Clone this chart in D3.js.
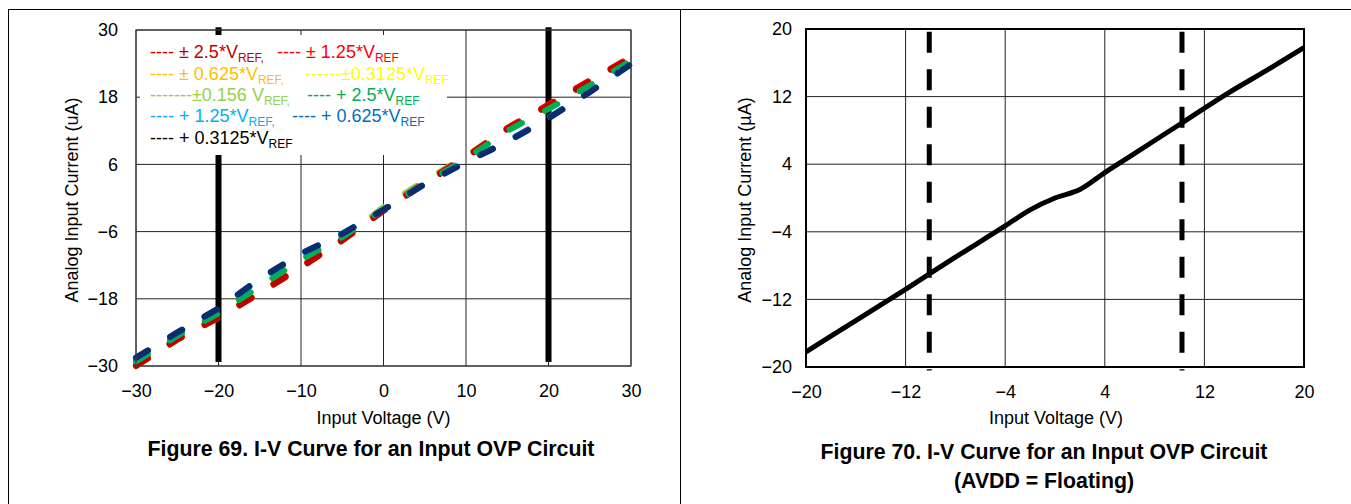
<!DOCTYPE html>
<html><head><meta charset="utf-8">
<script src="https://cdn.jsdelivr.net/npm/d3@7"></script>
<style>
body{margin:0;background:#fff}
svg{display:block}
text{font-family:"Liberation Sans",Arial,sans-serif}
</style>
</head><body>
<svg id="c" width="1351" height="504"></svg>
<script>
// ---------- DATA: Figure 69 ----------
const voltage69 = [-30,-25,-20,-15,-10,-5,0,5,10,15,20,25,30];
const iPm2p5    = [-30.0,-25.3,-21.4,-17.0,-12.4,-7.6,-2.3,2.6,7.2,12.3,16.5,20.8,25.0];
const iPm1p25   = [-29.8,-25.1,-21.2,-16.8,-12.2,-7.4,-2.1,2.8,7.4,12.5,16.7,21.0,25.2];
const iPm0p625  = [-29.9,-25.2,-21.3,-16.9,-12.3,-7.5,-2.2,2.7,7.3,12.4,16.6,20.9,25.1];
const iPm0p3125 = [-29.9,-25.2,-21.3,-16.9,-12.3,-7.5,-2.2,2.7,7.3,12.4,16.6,20.9,25.1];
const iPm0p156  = [-30.0,-25.3,-21.4,-17.0,-12.4,-7.4,-1.6,3.1,7.4,12.3,16.5,20.8,25.0];
const iP2p5     = [-29.2,-24.6,-20.6,-15.8,-11.0,-7.0,-2.0,2.6,7.0,12.0,15.9,20.1,24.5];
const iP1p25    = [-28.6,-24.1,-19.8,-14.5,-10.0,-6.4,-2.1,2.5,6.5,10.1,14.3,19.0,23.9];
const iP0p625   = [-28.6,-24.1,-19.8,-14.5,-10.0,-6.4,-2.1,2.5,6.5,10.1,14.3,19.0,23.9];
const iP0p3125  = [-28.5,-24.0,-19.7,-14.4,-9.9,-6.4,-2.1,2.5,6.4,10.0,14.2,18.9,23.9];

const legendLabels = [
  ["---- ± 2.5*V","REF,"], ["---- ± 1.25*V","REF"],
  ["---- ± 0.625*V","REF,"], ["------±0.3125*V","REF"],
  ["-------±0.156 V","REF,"], ["---- + 2.5*V","REF"],
  ["---- + 1.25*V","REF,"], ["---- + 0.625*V","REF"],
  ["---- + 0.3125*V","REF"]
];
const ticks69X = [-30,-20,-10,0,10,20,30];
const ticks69Y = [-30,-18,-6,6,18,30];
const ovpLimits69 = [-20, 20];

// ---------- DATA: Figure 70 ----------
const voltage70 = [-20,-16,-12,-8,-4,-2,0,2,4,6,10,14,17,20];
const current70 = [-18.2,-14.5,-10.8,-7.0,-3.3,-1.4,0.0,1.0,3.0,4.9,8.7,12.5,15.1,17.8];
const ticks70X = [-20,-12,-4,4,12,20];
const ticks70Y = [-20,-12,-4,4,12,20];
const ovpLimits70 = [-10.1, 10.2];

// ---------- styles ----------
const FONT = 18;
const svg = d3.select("#c");

// outer panel borders
svg.append("line").attr("x1",8).attr("x2",1351).attr("y1",9.5).attr("y2",9.5).attr("stroke","#000");
svg.append("line").attr("x1",8.5).attr("x2",8.5).attr("y1",9).attr("y2",504).attr("stroke","#000");
svg.append("line").attr("x1",680.5).attr("x2",680.5).attr("y1",9).attr("y2",504).attr("stroke","#000");

function fmt(v){ return v < 0 ? "\u2212" + Math.abs(v) : String(v); }

function drawFrame(x, y, tx, ty, ylabOffset){
  const g = svg.append("g");
  tx.forEach(t => g.append("line").attr("x1",x(t)).attr("x2",x(t)).attr("y1",y.range()[0]).attr("y2",y.range()[1])
      .attr("stroke","#222").attr("stroke-width",1));
  ty.forEach(t => g.append("line").attr("y1",y(t)).attr("y2",y(t)).attr("x1",x.range()[0]).attr("x2",x.range()[1])
      .attr("stroke","#222").attr("stroke-width",1));
  const ax = svg.append("g").attr("transform",`translate(0,${y.range()[0]})`)
     .call(d3.axisBottom(x).tickValues(tx).tickFormat(fmt).tickSize(0).tickPadding(18));
  const ay = svg.append("g").attr("transform",`translate(${x.range()[0]},0)`)
     .call(d3.axisLeft(y).tickValues(ty).tickFormat(fmt).tickSize(0).tickPadding(ylabOffset));
  [ax,ay].forEach(a=>{ a.select(".domain").remove();
    a.selectAll("text").attr("font-size",FONT).attr("fill","#000").attr("font-family","Liberation Sans, Arial, sans-serif"); });
  return g;
}
function drawBorder(x, y, color, w){
  svg.append("rect").attr("x",x.range()[0]).attr("y",y.range()[1])
    .attr("width",x.range()[1]-x.range()[0]).attr("height",y.range()[0]-y.range()[1])
    .attr("fill","none").attr("stroke",color).attr("stroke-width",w);
}

// ================= Figure 69 =================
const x69 = d3.scaleLinear().domain([-30,30]).range([136,631]);
const y69 = d3.scaleLinear().domain([-30,30]).range([366,30]);
drawFrame(x69, y69, ticks69X, ticks69Y, 18);

// OVP limit bars
ovpLimits69.forEach(v => svg.append("line")
  .attr("x1",x69(v)).attr("x2",x69(v)).attr("y1",y69(30.5)).attr("y2",y69(-29.3))
  .attr("stroke","#000").attr("stroke-width",6));

// series (drawing order chosen so the visible layers match)
const series69 = [
  {v:iPm0p3125, c:"#ffff00"},
  {v:iPm0p625,  c:"#ffc000"},
  {v:iPm0p156,  c:"#92d050"},
  {v:iPm1p25,   c:"#ff0000"},
  {v:iPm2p5,    c:"#c00000"},
  {v:iP2p5,     c:"#00b050"},
  {v:iP1p25,    c:"#00b0f0"},
  {v:iP0p625,   c:"#0070c0"},
  {v:iP0p3125,  c:"#0d2c6c"}
];
const line69 = d3.line().x((d,i)=>x69(voltage69[i])).y(d=>y69(d));
series69.forEach(s => svg.append("path").attr("d", line69(s.v))
  .attr("fill","none").attr("stroke",s.c).attr("stroke-width",6)
  .attr("stroke-linecap","round").attr("stroke-dasharray","14 26"));

drawBorder(x69, y69, "#404040", 1.2);

// legend background (covers grid and limit bar)
svg.append("rect").attr("x",140).attr("y",35).attr("width",307).attr("height",120).attr("fill","#fff");

// legend text
const legendColors = ["#c00000","#ff0000","#ffc000","#ffff00","#92d050","#00b050","#00b0f0","#0070c0","#000000"];
const legendPos = [[150,58],[277,58],[150,80],[305,80],[150,101],[307,101],[150,121.5],[292,121.5],[150,143.5]];
legendLabels.forEach((l,i)=>{
  const t = svg.append("text").attr("x",legendPos[i][0]).attr("y",legendPos[i][1])
    .attr("font-size",FONT).attr("fill",legendColors[i]);
  t.append("tspan").text(l[0]);
  t.append("tspan").attr("font-size",12).attr("dy",4).text(l[1]);
});

// axis titles & caption
svg.append("text").attr("x",383.5).attr("y",424).attr("text-anchor","middle").attr("font-size",FONT).text("Input Voltage (V)");
svg.append("text").attr("transform","translate(78,200) rotate(-90)").attr("text-anchor","middle").attr("font-size",FONT).text("Analog Input Current (uA)");
svg.append("text").attr("x",371).attr("y",455.5).attr("text-anchor","middle").attr("font-size",21.3).attr("font-weight","bold").text("Figure 69. I-V Curve for an Input OVP Circuit");

// ================= Figure 70 =================
const x70 = d3.scaleLinear().domain([-20,20]).range([806,1304]);
const y70 = d3.scaleLinear().domain([-20,20]).range([367,29]);
drawFrame(x70, y70, ticks70X, ticks70Y, 14);

ovpLimits70.forEach(v => svg.append("line")
  .attr("x1",x70(v)).attr("x2",x70(v)).attr("y1",y70(20)).attr("y2",y70(-20.4))
  .attr("stroke","#000").attr("stroke-width",5)
  .attr("stroke-dasharray","21 16.5").attr("stroke-dashoffset",34.8));

const line70 = d3.line().x((d,i)=>x70(voltage70[i])).y(d=>y70(d)).curve(d3.curveMonotoneX);
svg.append("path").attr("d", line70(current70)).attr("fill","none").attr("stroke","#000")
  .attr("stroke-width",5).attr("stroke-linejoin","round");

drawBorder(x70, y70, "#000", 2);

svg.append("text").attr("x",1056).attr("y",424).attr("text-anchor","middle").attr("font-size",FONT).text("Input Voltage (V)");
svg.append("text").attr("transform","translate(751,200) rotate(-90)").attr("text-anchor","middle").attr("font-size",FONT).text("Analog Input Current (µA)");
svg.append("text").attr("x",1044).attr("y",459).attr("text-anchor","middle").attr("font-size",21.3).attr("font-weight","bold").text("Figure 70. I-V Curve for an Input OVP Circuit");
svg.append("text").attr("x",1044).attr("y",488).attr("text-anchor","middle").attr("font-size",21.3).attr("font-weight","bold").text("(AVDD = Floating)");
</script>
</body></html>
